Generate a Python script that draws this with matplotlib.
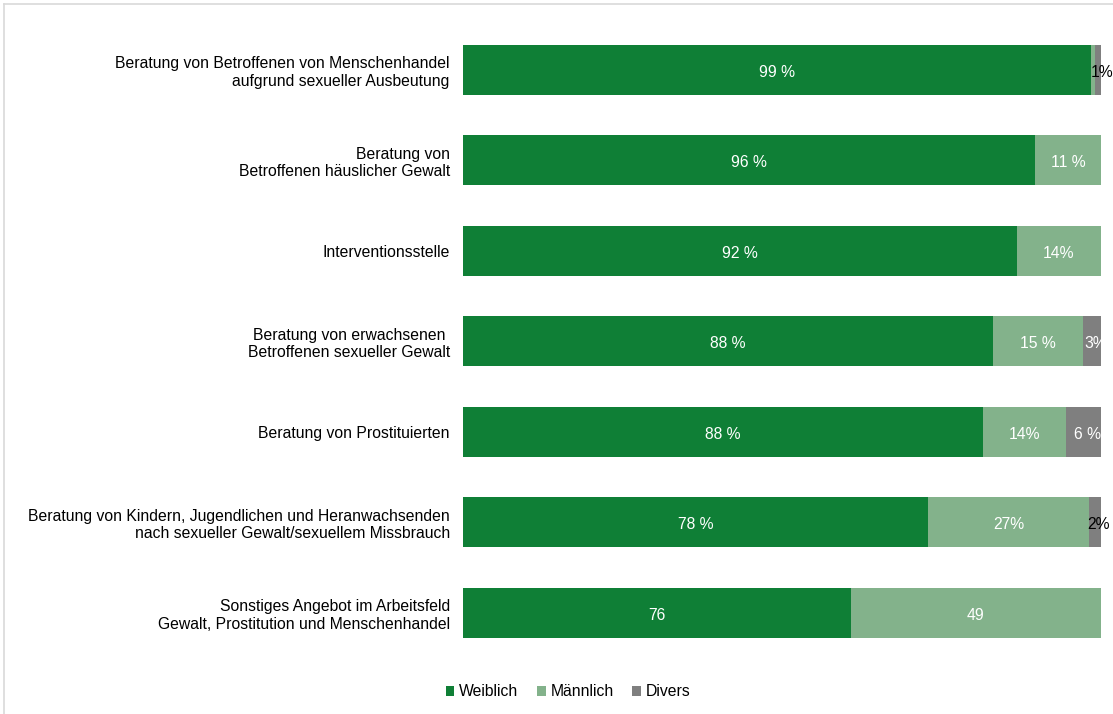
import matplotlib.pyplot as plt
import numpy as np
from matplotlib.lines import Line2D

plt.rcParams['font.family'] = ['Liberation Sans', 'DejaVu Sans']

categories = [
    "Beratung von Betroffenen von Menschenhandel\naufgrund sexueller Ausbeutung",
    "Beratung von\nBetroffenen häuslicher Gewalt",
    "Interventionsstelle",
    "Beratung von erwachsenen \nBetroffenen sexueller Gewalt",
    "Beratung von Prostituierten",
    "Beratung von Kindern, Jugendlichen und Heranwachsenden\nnach sexueller Gewalt/sexuellem Missbrauch",
    "Sonstiges Angebot im Arbeitsfeld\nGewalt, Prostitution und Menschenhandel",
]
weiblich = [99, 96, 92, 88, 88, 78, 76]
maennlich = [0.5, 11, 14, 15, 14, 27, 49]
divers = [1, 0, 0, 3, 6, 2, 0]

labels_w = ["99 %", "96 %", "92 %", "88 %", "88 %", "78 %", "76"]
labels_m = ["", "11 %", "14%", "15 %", "14%", "27%", "49"]
labels_d = ["1%", "", "", "3%", "6 %", "2%", ""]
colors_d = ["black", None, None, "white", "white", "black", None]

c_w = "#0f7f36"
c_m = "#83b28b"
c_d = "#7f7f7f"

fig = plt.figure(figsize=(11.13, 7.14), dpi=100)
ax = fig.add_axes([463 / 1113, 1 - 658 / 714, 638 / 1113, 633.5 / 714])

w = np.array(weiblich, float)
m = np.array(maennlich, float)
d = np.array(divers, float)
tot = w + m + d
wp, mp, dp = w / tot, m / tot, d / tot
y = np.arange(len(categories))
h = 0.55

ax.barh(y, wp, h, color=c_w, label="Weiblich")
ax.barh(y, mp, h, left=wp, color=c_m, label="Männlich")
ax.barh(y, dp, h, left=wp + mp, color=c_d, label="Divers")

fs = 11.3
for i in y:
    ax.text(wp[i] / 2, i + 0.03, labels_w[i], ha='center', va='center', color='white', fontsize=fs)
    if labels_m[i]:
        ax.text(wp[i] + mp[i] / 2, i + 0.03, labels_m[i], ha='center', va='center', color='white', fontsize=fs)
    if labels_d[i]:
        ax.text(wp[i] + mp[i] + dp[i] / 2 + 0.006, i + 0.03, labels_d[i], ha='center', va='center',
                color=colors_d[i], fontsize=fs, clip_on=False)

ax.set_xlim(0, 1)
ax.set_ylim(len(categories) - 0.5, -0.5)
ax.set_yticks(y)
ax.set_yticklabels(categories, fontsize=fs)
ax.tick_params(axis='y', length=0, pad=9.5)
ax.set_xticks([])
for s in ax.spines.values():
    s.set_visible(False)

fig.legend(loc='center', bbox_to_anchor=(568 / 1113, 1 - 692 / 714), ncol=3, frameon=False,
           fontsize=fs, handlelength=0.55, handleheight=0.55, handletextpad=0.3, columnspacing=1.2)

# light frame around the chart area
fig.add_artist(Line2D([4 / 1113, 1], [1 - 4 / 714, 1 - 4 / 714], color='#d9d9d9', lw=1.2))
fig.add_artist(Line2D([4 / 1113, 4 / 1113], [0, 1 - 4 / 714], color='#d9d9d9', lw=1.2))

fig.savefig("out.png", dpi=100)
